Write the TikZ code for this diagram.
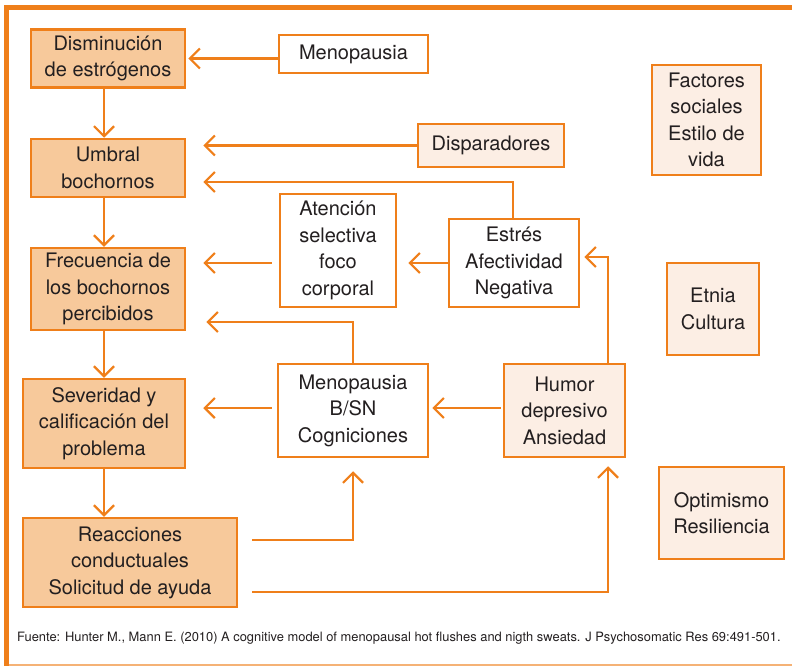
\documentclass[tikz,border=0pt]{standalone}
\usepackage{fontspec}
\setmainfont{TeX Gyre Heros}
\usetikzlibrary{arrows.meta}
\definecolor{naranja}{HTML}{EF7F1A}
\definecolor{durazno}{HTML}{F7C99B}
\definecolor{crema}{HTML}{FCEEE4}
\definecolor{texto}{HTML}{231F20}
\begin{document}
\begin{tikzpicture}[x=1pt,y=-1pt,
    caja/.style={rectangle, draw=naranja, line width=2.5pt, text=texto, align=center, inner sep=2pt,
        font=\fontsize{20}{26.5}\selectfont},
    oscura/.style={caja, fill=durazno},
    clara/.style={caja, fill=crema},
    blanca/.style={caja, fill=white},
    flecha/.style={draw=naranja, line width=2.2pt, -{Straight Barb[length=10pt,width=20pt]}}]
    \useasboundingbox (0,0) rectangle (792,666);
    % marco
    \draw[naranja, line width=5pt] (6.5,666) -- (6.5,7.5) -- (792,7.5);
    \draw[naranja!60, line width=1.2pt] (9,665) -- (792,665);
    % columna izquierda
    \node(dism) [oscura, minimum width=154pt, minimum height=58pt] at (108,58.5) {Disminución\\de estrógenos};
    \node(umbral) [oscura, minimum width=154pt, minimum height=58pt] at (108,168) {Umbral\\bochornos};
    \node(frec) [oscura, minimum width=154pt, minimum height=82pt] at (108,289) {Frecuencia de\\los bochornos\\percibidos};
    \node(sev) [oscura, minimum width=162pt, minimum height=89pt] at (104,423.5) {Severidad y\\calificación del\\problema};
    \node(reac) [oscura, minimum width=214pt, minimum height=89pt] at (130,562.5) {Reacciones\\conductuales\\Solicitud de ayuda};
    % centro
    \node(meno) [blanca, minimum width=149pt, minimum height=38pt] at (353.5,54) {Menopausia};
    \node(disp) [clara, minimum width=146pt, minimum height=43pt] at (491,145.5) {Disparadores};
    \node(aten) [blanca, minimum width=116pt, minimum height=113pt] at (338,250.5) {Atención\\selectiva\\foco\\corporal};
    \node(estres) [blanca, minimum width=130pt, minimum height=88pt] at (514,263) {Estrés\\Afectividad\\Negativa};
    \node(bsn) [blanca, minimum width=150pt, minimum height=93pt] at (353,410.5) {Menopausia\\B/SN\\Cogniciones};
    \node(humor) [clara, minimum width=121pt, minimum height=93pt] at (564.5,410.5) {Humor\\depresivo\\Ansiedad};
    % derecha
    \node(factores) [clara, minimum width=109pt, minimum height=110pt] at (706.5,120) {Factores\\sociales\\Estilo de\\vida};
    \node(etnia) [clara, minimum width=92pt, minimum height=92pt] at (713,309) {Etnia\\Cultura};
    \node(optim) [clara, minimum width=125pt, minimum height=92pt] at (721.5,513) {Optimismo\\Resiliencia};
    \node(fuente) [anchor=west, text=texto, inner sep=0pt, font=\fontsize{12.9}{15}\selectfont] at (17,638)
        {Fuente: Hunter M., Mann E. (2010) A cognitive model of menopausal hot flushes and nigth sweats. J Psychosomatic Res 69:491-501.};
    % flechas
    \draw[flecha, shorten >=2pt] (meno.west |- dism.east) -- (dism.east);
    \draw[flecha] (sev.north |- dism.south) -- (sev.north |- umbral.north);
    \draw[flecha] (sev.north |- umbral.south) -- (sev.north |- frec.north);
    \draw[flecha] (sev.north |- frec.south) -- (sev.north);
    \draw[flecha] (sev.south) -- (sev.south |- reac.north);
    \draw[flecha, shorten >=17pt] (disp.west) -- (disp.west -| umbral.east);
    \draw[flecha, shorten >=17pt] ([xshift=-1pt]estres.north) |- ([yshift=-14pt]umbral.east);
    \draw[flecha, shorten >=11pt] (estres.west) -- (estres.west -| aten.east);
    \draw[flecha, shorten <=7pt, shorten >=17pt] (aten.west |- estres.west) -- (frec.east |- estres.west);
    \draw[flecha, shorten >=20pt] (bsn.north) |- ([yshift=-33pt]frec.east);
    \draw[flecha, shorten <=5pt, shorten >=17pt] ([yshift=2.5pt]bsn.west) -- ([yshift=2.5pt]bsn.west -| sev.east);
    \draw[flecha, shorten <=2pt, shorten >=3pt] ([yshift=2.5pt]humor.west) -- ([yshift=2.5pt]humor.west -| bsn.east);
    \draw[flecha, shorten >=4pt] ([xshift=43.5pt]humor.north) |- ([yshift=6pt]estres.east);
    \draw[flecha, shorten <=14pt, shorten >=13pt] ([yshift=22.5pt]reac.east) -| (bsn.south);
    \draw[flecha, shorten <=14pt, shorten >=8pt] ([yshift=-29.5pt]reac.east) -| ([xshift=43.5pt]humor.south);
\end{tikzpicture}
\end{document}
